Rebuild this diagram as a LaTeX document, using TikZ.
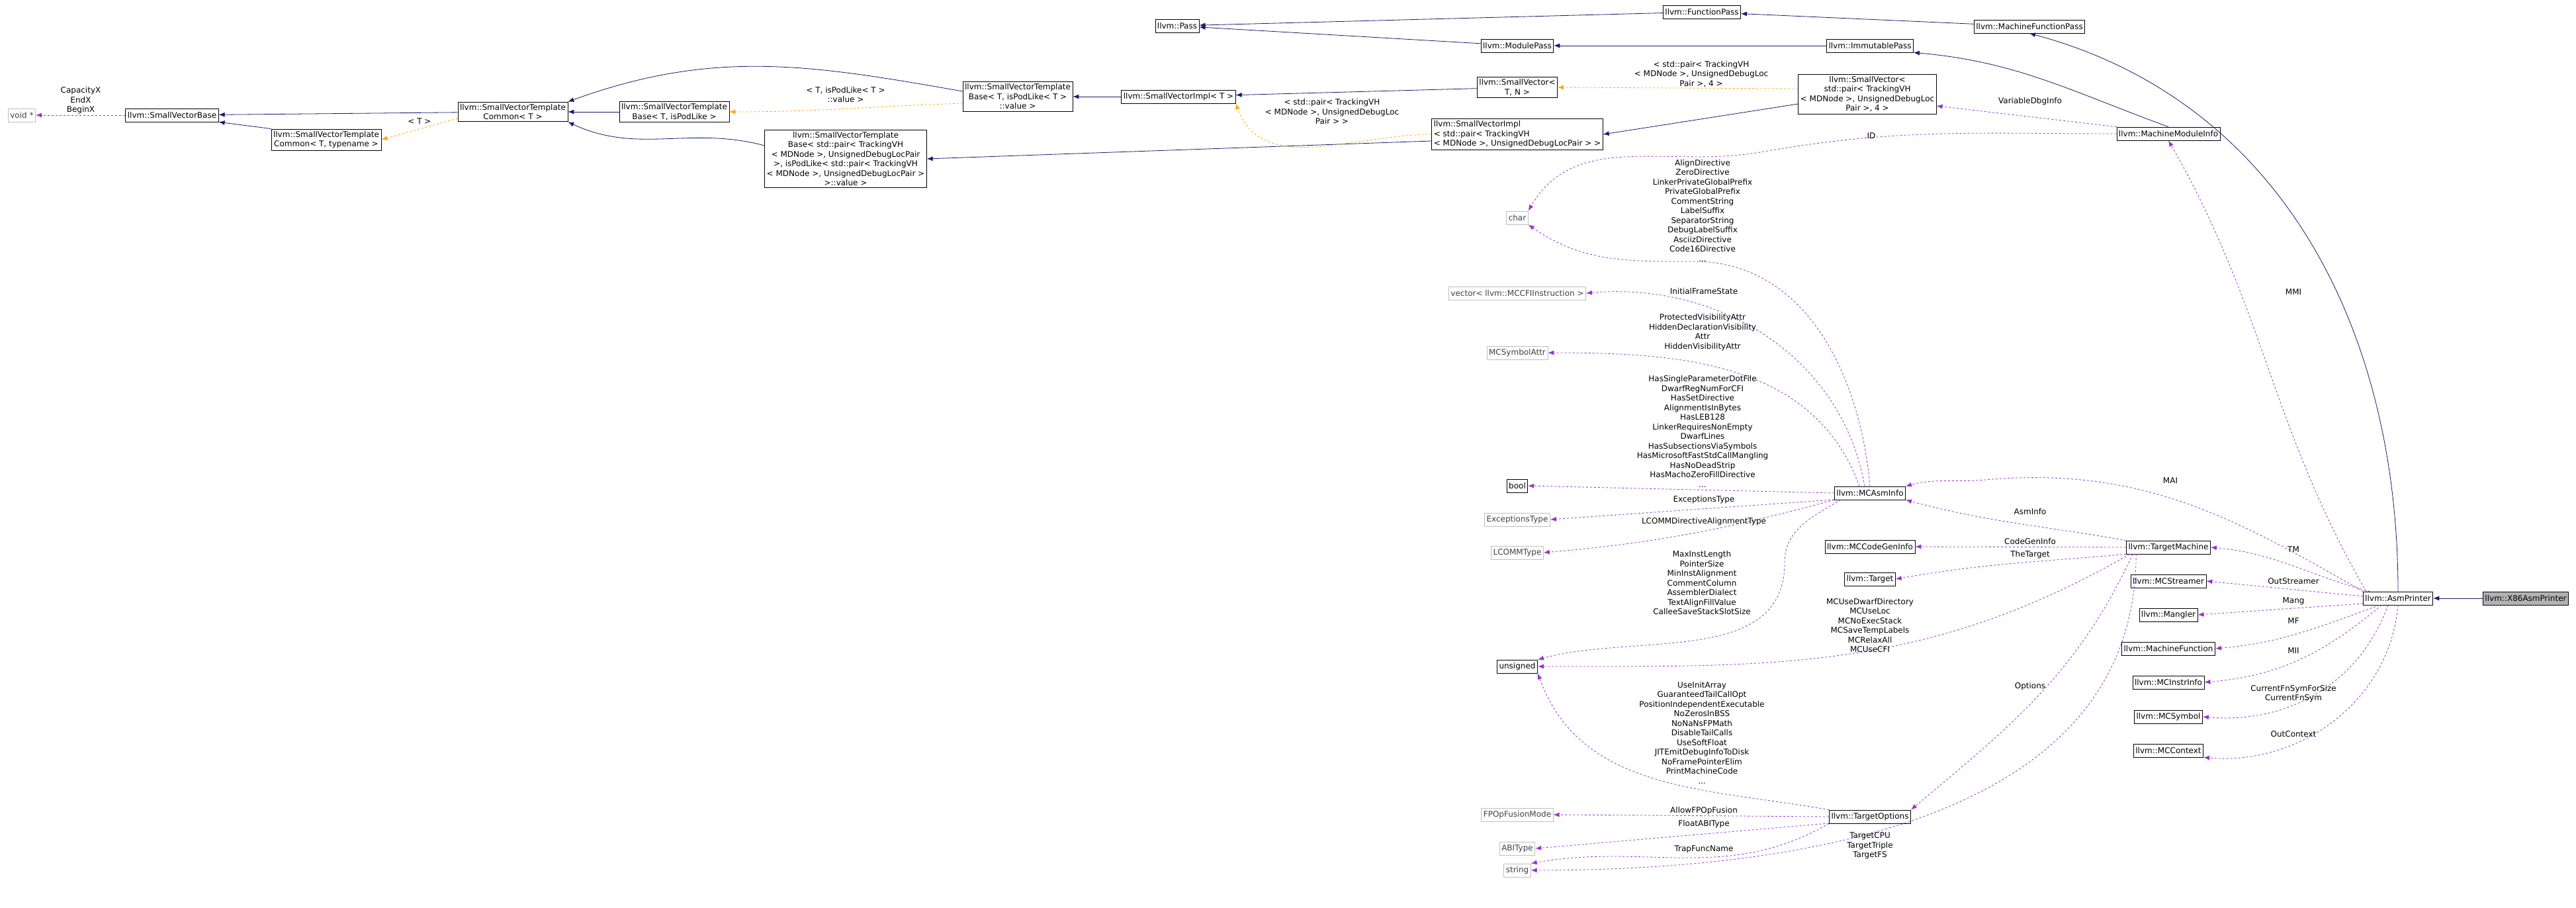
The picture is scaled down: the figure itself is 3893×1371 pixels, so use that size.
\documentclass[tikz,border=0pt]{standalone}
\usepackage{fontspec}
\setmainfont{DejaVu Sans}
\usepackage{tikz}
\usetikzlibrary{arrows.meta}
\definecolor{inh}{HTML}{191970}
\definecolor{use}{HTML}{9A32CD}
\definecolor{tpl}{HTML}{FFA500}
\definecolor{extgray}{HTML}{BFBFBF}
\begin{document}
\begin{tikzpicture}[
    x=1pt, y=-1pt,
    font=\fontsize{12}{14.5}\selectfont,
    cls/.style={rectangle,draw=black,fill=white,thick,minimum height=20pt,inner sep=3pt,align=center},
    ext/.style={rectangle,draw=extgray,fill=white,thick,minimum height=20pt,inner sep=3pt,text=black!75},
    me/.style={cls,fill=gray!60},
    isa/.style={draw=inh,thick,-{Latex[length=9pt,width=7pt]}},
    uses/.style={draw=use,thick,dashed,-{Latex[length=9pt,width=7pt]}},
    tmpl/.style={draw=tpl,thick,dashed,-{Latex[length=9pt,width=7pt]}},
    lbl/.style={align=center,font=\fontsize{12}{14.5}\selectfont},
]
\useasboundingbox (0,0) rectangle (3893,1371);
% small vector family
\node[ext] (voidp) at (33,174) {void *};
\node[cls] (svbase) at (260,174) {llvm::SmallVectorBase};
\node[cls] (svtc) at (775,169) {llvm::SmallVectorTemplate\\Common< T >};
\node[cls] (svtct) at (493,211) {llvm::SmallVectorTemplate\\Common< T, typename >};
\node[cls] (svtb) at (1019,169) {llvm::SmallVectorTemplate\\Base< T, isPodLike >};
\node[cls] (svtbpair) at (1278,240) {llvm::SmallVectorTemplate\\Base< std::pair< TrackingVH\\< MDNode >, UnsignedDebugLocPair\\>, isPodLike< std::pair< TrackingVH\\< MDNode >, UnsignedDebugLocPair >\\>::value >};
\node[cls] (svtbval) at (1538,146) {llvm::SmallVectorTemplate\\Base< T, isPodLike< T >\\::value >};
\node[cls] (svimpl) at (1781,146) {llvm::SmallVectorImpl< T >};
\node[cls] (svtn) at (2293,132) {llvm::SmallVector<\\T, N >};
\node[cls] (svpair) at (2822,142) {llvm::SmallVector<\\std::pair< TrackingVH\\< MDNode >, UnsignedDebugLoc\\Pair >, 4 >};
\node[cls,align=left] (svimplpair) at (2293,203) {llvm::SmallVectorImpl\\< std::pair< TrackingVH\\< MDNode >, UnsignedDebugLocPair > >};
% passes
\node[cls] (pass) at (1779,39) {llvm::Pass};
\node[cls] (fpass) at (2572,18) {llvm::FunctionPass};
\node[cls] (mpass) at (2293,69) {llvm::ModulePass};
\node[cls] (ipass) at (2826,69) {llvm::ImmutablePass};
\node[cls] (mfpass) at (3067,40) {llvm::MachineFunctionPass};
\node[cls] (mmi) at (3277,202) {llvm::MachineModuleInfo};
\node[cls] (asmp) at (3624,904) {llvm::AsmPrinter};
\node[me] (x86) at (3817,904) {llvm::X86AsmPrinter};
% member types
\node[ext] (chr) at (2293,329) {char};
\node[ext] (vec) at (2293,443) {vector< llvm::MCCFIInstruction >};
\node[ext] (symattr) at (2293,533) {MCSymbolAttr};
\node[cls] (bool) at (2293,734) {bool};
\node[ext] (exctype) at (2293,785) {ExceptionsType};
\node[ext] (lcomm) at (2293,835) {LCOMMType};
\node[cls] (unsig) at (2293,1007) {unsigned};
\node[ext] (fpop) at (2293,1231) {FPOpFusionMode};
\node[ext] (abi) at (2293,1282) {ABIType};
\node[ext] (str) at (2293,1315) {string};
\node[cls] (mcasm) at (2826,745) {llvm::MCAsmInfo};
\node[cls] (cgi) at (2826,826) {llvm::MCCodeGenInfo};
\node[cls] (target) at (2826,875) {llvm::Target};
\node[cls] (topts) at (2826,1234) {llvm::TargetOptions};
\node[cls] (tm) at (3277,827) {llvm::TargetMachine};
\node[cls] (streamer) at (3277,878) {llvm::MCStreamer};
\node[cls] (mangler) at (3277,929) {llvm::Mangler};
\node[cls] (mfunc) at (3277,980) {llvm::MachineFunction};
\node[cls] (minstr) at (3277,1031) {llvm::MCInstrInfo};
\node[cls] (msym) at (3277,1083) {llvm::MCSymbol};
\node[cls] (mctx) at (3277,1134) {llvm::MCContext};

% inheritance
\draw[isa] (svtc) -- (svbase);
\draw[isa] (svtct.north west) -- (svbase.south east);
\draw[isa] (svtb) -- (svtc);
\draw[isa] (svtbval.west) ++(0,-8) to[out=170,in=20] (svtc.north east);
\draw[isa] (svtbpair.west) ++(0,-20) to[out=165,in=-25] (svtc.south east);
\draw[isa] (svimpl) -- (svtbval);
\draw[isa] (svtn) -- (svimpl);
\draw[isa] (svimplpair.west) ++(0,10) -- (svtbpair.east);
\draw[isa] (svpair.west) ++(0,15) -- (svimplpair.east);
\draw[isa] (fpass) -- (pass);
\draw[isa] (mpass) -- (pass);
\draw[isa] (ipass) -- (mpass);
\draw[isa] (mfpass) -- (fpass);
\draw[isa] (mmi.north) to[out=160,in=-5] (ipass.south east);
\draw[isa] (asmp.north) to[out=90,in=-15] (mfpass.south);
\draw[isa] (x86) -- (asmp);
% template instances
\draw[tmpl] (svtc.west) ++(0,10) -- (svtct.east) node[lbl,pos=0.5,above=4pt] {< T >};
\draw[tmpl] (svtbval.west) ++(0,10) to[out=182,in=0] (svtb.east) node[lbl] at (1278,143) {< T, isPodLike< T >\\::value >};
\draw[tmpl] (svpair.west) ++(0,-8) -- (svtn.east) node[lbl] at (2571,112) {< std::pair< TrackingVH\\< MDNode >, UnsignedDebugLoc\\Pair >, 4 >};
\draw[tmpl] (svimplpair.west) to[out=180,in=-70] (svimpl.south east) node[lbl] at (2013,169) {< std::pair< TrackingVH\\< MDNode >, UnsignedDebugLoc\\Pair > >};
% usage
\draw[uses] (svbase) -- (voidp) node[lbl] at (122,152) {CapacityX\\EndX\\BeginX};
\draw[uses] (mmi.north west) -- (svpair.east |- 0,160) node[lbl] at (3068,153) {VariableDbgInfo};
\draw[uses] (mmi.west) to[out=180,in=10] (2660,230) to[out=190,in=60] (chr.north east) node[lbl] at (2828,205) {ID};
\draw[uses] (mcasm.north) to[out=95,in=0] (2560,395) to[out=180,in=-35] (chr.south east) node[lbl] at (2573,318) {AlignDirective\\ZeroDirective\\LinkerPrivateGlobalPrefix\\PrivateGlobalPrefix\\CommentString\\LabelSuffix\\SeparatorString\\DebugLabelSuffix\\AsciizDirective\\Code16Directive\\...};
\draw[uses] (mcasm.north) ++(-8,0) to[out=100,in=5] (vec.east) node[lbl] at (2575,440) {InitialFrameState};
\draw[uses] (mcasm.north) ++(-16,0) to[out=110,in=0] (symattr.east) node[lbl] at (2573,502) {ProtectedVisibilityAttr\\HiddenDeclarationVisibility\\Attr\\HiddenVisibilityAttr};
\draw[uses] (mcasm.west) -- (bool.east) node[lbl] at (2573,652) {HasSingleParameterDotFile\\DwarfRegNumForCFI\\HasSetDirective\\AlignmentIsInBytes\\HasLEB128\\LinkerRequiresNonEmpty\\DwarfLines\\HasSubsectionsViaSymbols\\HasMicrosoftFastStdCallMangling\\HasNoDeadStrip\\HasMachoZeroFillDirective\\...};
\draw[uses] (mcasm.west) ++(0,10) -- (exctype.east) node[lbl] at (2575,755) {ExceptionsType};
\draw[uses] (mcasm.south west) to[out=-165,in=5] (lcomm.east) node[lbl] at (2575,788) {LCOMMDirectiveAlignmentType};
\draw[uses] (mcasm.south west) ++(10,0) to[out=-150,in=90] (2697,850) to[out=-90,in=15] (unsig.north east) node[lbl] at (2572,881) {MaxInstLength\\PointerSize\\MinInstAlignment\\CommentColumn\\AssemblerDialect\\TextAlignFillValue\\CalleeSaveStackSlotSize};
\draw[uses] (asmp.north west) to[out=150,in=5] (3000,725) to[out=185,in=15] (mcasm.north east) node[lbl] at (3280,726) {MAI};
\draw[uses] (tm.north west) to[out=170,in=-15] (mcasm.south east) node[lbl] at (3068,773) {AsmInfo};
\draw[uses] (tm.west) -- (cgi.east) node[lbl] at (3068,818) {CodeGenInfo};
\draw[uses] (tm.south west) to[out=185,in=10] (target.east) node[lbl] at (3068,838) {TheTarget};
\draw[uses] (tm.south west) ++(5,0) to[out=-150,in=0] (unsig.east) node[lbl] at (2826,945) {MCUseDwarfDirectory\\MCUseLoc\\MCNoExecStack\\MCSaveTempLabels\\MCRelaxAll\\MCUseCFI};
\draw[uses] (tm.south west) ++(10,0) to[out=-115,in=40] (topts.north east) node[lbl] at (3068,1037) {Options};
\draw[uses] (tm.south west) ++(15,0) to[out=-90,in=0] (str.east) node[lbl] at (2826,1278) {TargetCPU\\TargetTriple\\TargetFS};
\draw[uses] (topts.north west) to[out=170,in=-70] (unsig.south east) node[lbl] at (2572,1107) {UseInitArray\\GuaranteedTailCallOpt\\PositionIndependentExecutable\\NoZerosInBSS\\NoNaNsFPMath\\DisableTailCalls\\UseSoftFloat\\JITEmitDebugInfoToDisk\\NoFramePointerElim\\PrintMachineCode\\...};
\draw[uses] (topts.west) -- (fpop.east) node[lbl] at (2575,1225) {AllowFPOpFusion};
\draw[uses] (topts.west) ++(0,10) -- (abi.east) node[lbl] at (2575,1245) {FloatABIType};
\draw[uses] (topts.south west) to[out=-150,in=10] (str.north east) node[lbl] at (2575,1283) {TrapFuncName};
\draw[uses] (asmp.north west) ++(5,0) to[out=120,in=-60] (mmi.south) node[lbl] at (3466,441) {MMI};
\draw[uses] (asmp.north west) ++(10,0) to[out=165,in=-5] (tm.east) node[lbl] at (3466,830) {TM};
\draw[uses] (asmp.west) ++(0,-3) -- (streamer.east) node[lbl] at (3466,878) {OutStreamer};
\draw[uses] (asmp.west) ++(0,8) -- (mangler.east) node[lbl] at (3466,908) {Mang};
\draw[uses] (asmp.south west) ++(25,0) to[out=-160,in=5] (mfunc.east) node[lbl] at (3466,938) {MF};
\draw[uses] (asmp.south) ++(-25,0) to[out=-140,in=5] (minstr.east) node[lbl] at (3466,983) {MII};
\draw[uses] (asmp.south) ++(-15,0) to[out=-110,in=-5] (msym.east) node[lbl] at (3466,1048) {CurrentFnSymForSize\\CurrentFnSym};
\draw[uses] (asmp.south) to[out=-95,in=-5] (mctx.south east) node[lbl] at (3466,1109) {OutContext};
\end{tikzpicture}
\end{document}
